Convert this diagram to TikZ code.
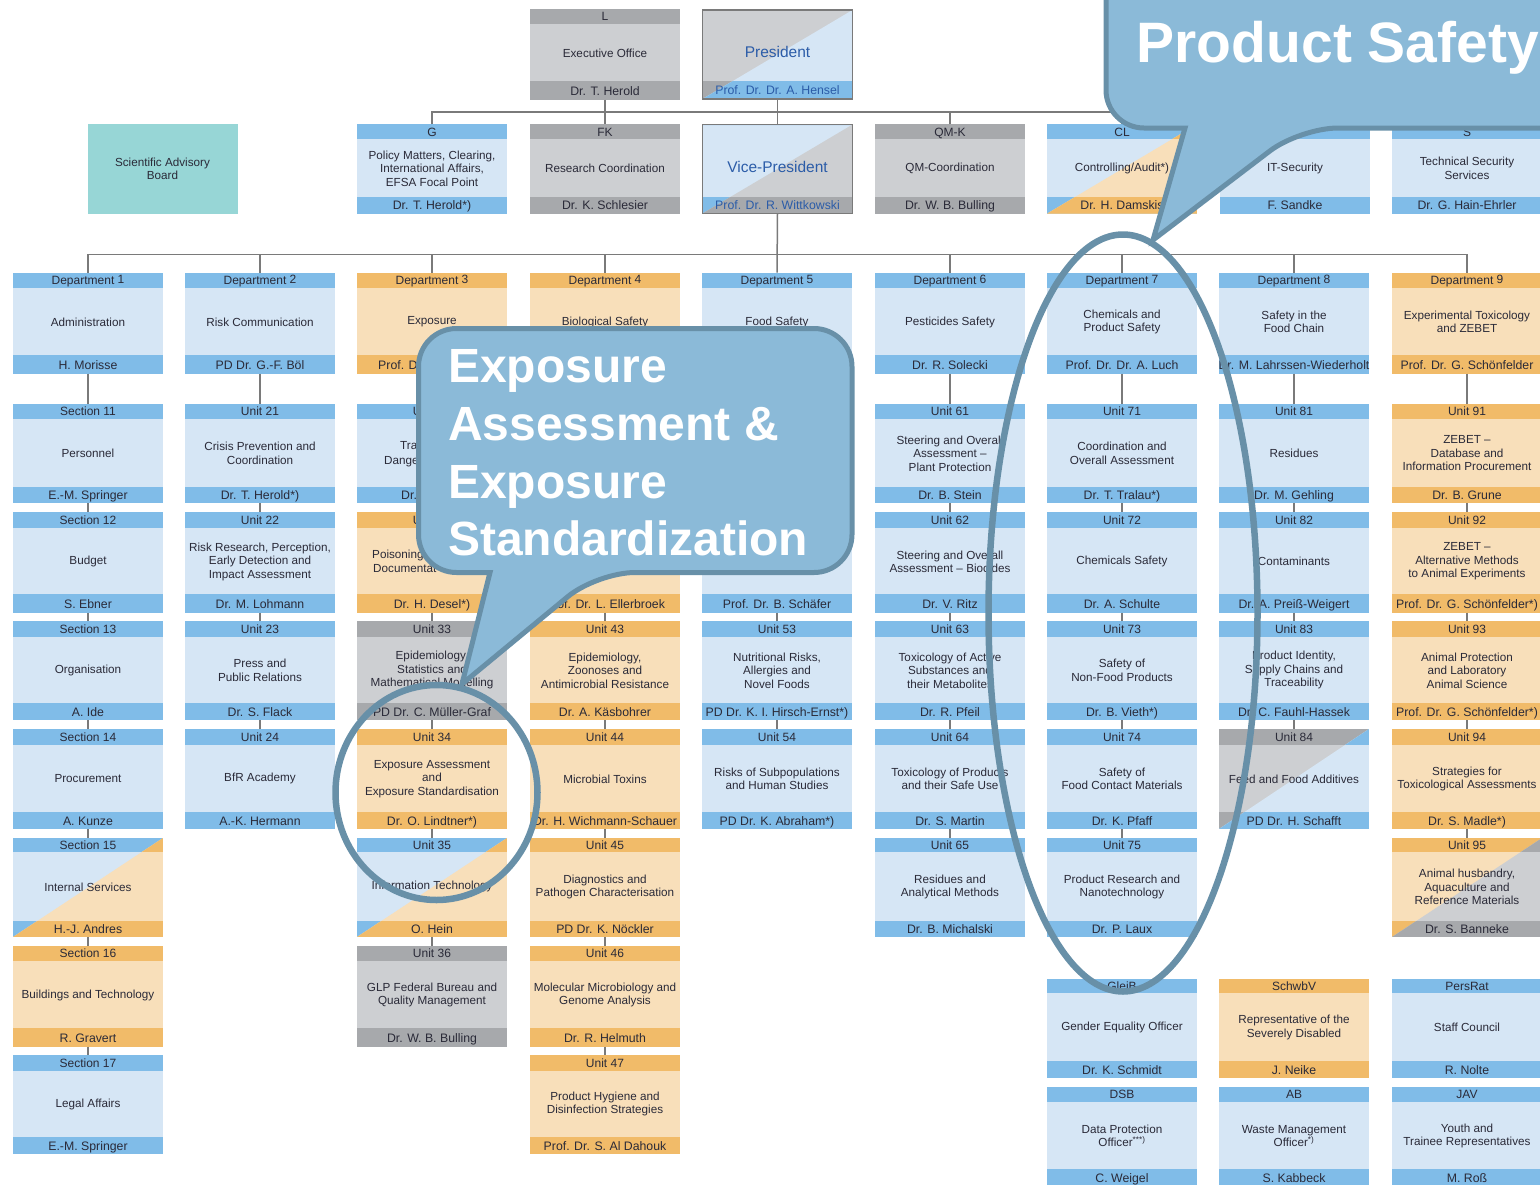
\documentclass[tikz,border=0pt]{standalone}
\usepackage{fontspec}
\setmainfont{Liberation Sans}
\definecolor{bluH}{HTML}{80BCE8}
\definecolor{bluB}{HTML}{D6E6F5}
\definecolor{oraH}{HTML}{F1BB69}
\definecolor{oraB}{HTML}{F8DFBA}
\definecolor{graH}{HTML}{A7A9AC}
\definecolor{graB}{HTML}{CDCFD2}
\definecolor{teal1}{HTML}{97D6D6}
\definecolor{inkD}{HTML}{2A2A38}
\definecolor{inkB}{HTML}{2B5CA8}
\definecolor{connC}{HTML}{7A7A7A}
\definecolor{callF}{HTML}{8BBAD8}
\definecolor{callS}{HTML}{6890A8}
\newcommand{\setrow}[4]{\def\rT{#1}\def\rH{#2}\def\rF{#3}\def\rB{#4}}
\newcommand{\rowT}{\setrow{9}{24}{81}{99.5}}
\newcommand{\rowS}{\setrow{124.3}{139}{196.7}{213.7}}
\newcommand{\rowD}{\setrow{272.7}{288}{355}{373.7}}
\newcommand{\rowA}{\setrow{404}{419}{486.7}{503}}
\newcommand{\rowB}{\setrow{511.7}{528}{594.3}{612.7}}
\newcommand{\rowC}{\setrow{621}{636.7}{703}{720}}
\newcommand{\rowE}{\setrow{729}{745}{811.7}{829}}
\newcommand{\rowF}{\setrow{838}{852}{920.7}{937}}
\newcommand{\rowG}{\setrow{945.7}{961}{1028}{1046.7}}
\newcommand{\rowI}{\setrow{1055}{1070.7}{1136.7}{1154}}
\newcommand{\rowJ}{\setrow{979}{992.7}{1061}{1078}}
\newcommand{\rowK}{\setrow{1086.7}{1102}{1169}{1186}}
\newcommand{\dpt}[1]{Department \raisebox{1.5pt}{#1}}
\newcommand{\obox}[7][]{%
  \pgfmathsetmacro\xR{#3+150}%
  \pgfmathsetmacro\xC{#3+75}%
  \pgfmathsetmacro\yC{(\rT+\rB)/2}%
  \pgfmathsetmacro\hB{\rB-\rT}%
  \pgfmathsetmacro\yH{(\rT+\rH)/2}%
  \pgfmathsetmacro\yM{(\rH+\rF)/2}%
  \pgfmathsetmacro\yF{(\rF+\rB)/2}%
  \node[orgshape, fill=#4B, minimum height=\hB pt] (#2) at (\xC,\yC) {};
  \fill[#4H] (#3,\rT) rectangle (\xR,\rH);
  \fill[#4H] (#3,\rF) rectangle (\xR,\rB);
  \if\relax\detokenize{#1}\relax\else
  \begin{scope}
    \clip (#3,\rB) -- (\xR,\rT) -- (\xR,\rB) -- cycle;
    \fill[#1B] (#3,\rT) rectangle (\xR,\rB);
    \fill[#1H] (#3,\rT) rectangle (\xR,\rH);
    \fill[#1H] (#3,\rF) rectangle (\xR,\rB);
  \end{scope}
  \fi
  \node[orghead] (#2-h) at (\xC,\yH) {#5};
  \node[orgbody] (#2-b) at (\xC,\yM) {#6};
  \node[orgfoot] (#2-f) at (\xC,\yF) {#7};
}
\tikzset{
  orgshape/.style={rectangle, inner sep=0pt, outer sep=0pt, minimum width=150pt},
  orghead/.style={inner sep=0pt, text=inkD, yshift=-1.2pt, text height=8.5pt, text depth=2pt, font=\fontsize{12}{13}\selectfont},
  orgbody/.style={inner sep=0pt, text=inkD, yshift=-0.5pt, align=center, font=\fontsize{11.7}{13.5}\selectfont},
  orgfoot/.style={inner sep=0pt, text=inkD, yshift=-1.5pt, text height=9pt, text depth=2.5pt, font=\fontsize{12.3}{14}\selectfont},
  frag/.style={inner sep=0pt, anchor=base west, text=inkD, font=\fontsize{11.7}{14}\selectfont},
  conn/.style={draw=connC, line width=1.5pt},
  bubble/.style={draw=callS, fill=callF, line width=5pt, line join=miter},
  ring/.style={draw=callS, line width=6.5pt},
  bubbletxt/.style={text=white, inner sep=0pt, font=\bfseries},
}
\begin{document}
\begin{tikzpicture}[x=1pt,y=-1pt]
\useasboundingbox (0,0) rectangle (1540,1184);
\clip (0,0) rectangle (1540,1184);
% ---------- top rows
\rowT
\obox{boxL}{530}{gra}{L}{Executive Office}{Dr. T. Herold}
\begin{scope}[orgbody/.append style={text=inkB, yshift=-6pt, font=\fontsize{15.5}{17}\selectfont}, orgfoot/.append style={text=inkB}]
\setrow{10}{10}{81}{99}
\obox[blu]{pres}{702.5}{gra}{}{President}{Prof. Dr. Dr. A. Hensel}
\setrow{124.5}{124.5}{196.7}{213.5}
\obox[gra]{vp}{702.5}{blu}{}{Vice-President}{Prof. Dr. R. Wittkowski}
\end{scope}
\rowS
\draw[draw=connC, line width=1.8pt] (pres.south west) rectangle (pres.north east);
\draw[draw=connC, line width=1.8pt] (vp.south west) rectangle (vp.north east);
\node[orgshape, fill=teal1, minimum height=90pt, text=inkD, align=center, font=\fontsize{11.7}{13}\selectfont] (sab) at (162.5,169) {Scientific Advisory\\Board};
\obox{boxG}{357}{blu}{G}{Policy Matters, Clearing,\\International Affairs,\\EFSA Focal Point}{Dr. T. Herold*)}
\obox{boxFK}{530}{gra}{FK}{Research Coordination}{Dr. K. Schlesier}
\obox{boxQM}{875}{gra}{QM-K}{QM-Coordination}{Dr. W. B. Bulling}
\obox[ora]{boxCL}{1047}{blu}{CL}{Controlling/Audit*)}{Dr. H. Damskis}
\obox{boxIT}{1220}{blu}{ITS}{IT-Security}{F. Sandke}
\obox{boxS}{1392}{blu}{S}{Technical Security\\Services}{Dr. G. Hain-Ehrler}
% ---------- departments
\rowD
\obox{d1}{13}{blu}{\dpt{1}}{Administration}{H. Morisse}
\obox{d2}{185}{blu}{\dpt{2}}{Risk Communication}{PD Dr. G.-F. Böl}
\obox{d3}{357}{ora}{\dpt{3}}{\raisebox{-2pt}{Exposure}}{}
\obox{d4}{530}{ora}{\dpt{4}}{Biological Safety}{}
\obox{d5}{702}{blu}{\dpt{5}}{Food Safety}{}
\obox{d6}{875}{blu}{\dpt{6}}{Pesticides Safety}{Dr. R. Solecki}
\obox{d7}{1047}{blu}{\dpt{7}}{Chemicals and\\Product Safety}{Prof. Dr. Dr. A. Luch}
\obox{d8}{1219}{blu}{\dpt{8}}{Safety in the\\Food Chain}{Dr. M. Lahrssen-Wiederholt}
\obox{d9}{1392}{ora}{\dpt{9}}{Experimental Toxicology\\and ZEBET}{Prof. Dr. G. Schönfelder}
\node[frag, font=\fontsize{12.3}{14}\selectfont] (fragA) at (378,369.5) {Prof. D};
% ---------- row 1
\rowA
\obox{u11}{13}{blu}{Section 11}{Personnel}{E.-M. Springer}
\obox{u21}{185}{blu}{Unit 21}{Crisis Prevention and\\Coordination}{Dr. T. Herold*)}
\obox{u31}{357}{blu}{Unit 31}{}{}
\obox{u41}{530}{ora}{}{}{}
\obox{u51}{702}{blu}{}{}{}
\obox{u61}{875}{blu}{Unit 61}{Steering and Overall\\Assessment –\\Plant Protection}{Dr. B. Stein}
\obox{u71}{1047}{blu}{Unit 71}{Coordination and\\Overall Assessment}{Dr. T. Tralau*)}
\obox{u81}{1219}{blu}{Unit 81}{Residues}{Dr. M. Gehling}
\obox{u91}{1392}{ora}{Unit 91}{ZEBET –\\Database and\\Information Procurement}{Dr. B. Grune}
\node[frag] (fragB) at (400,449) {Tra};
\node[frag] (fragC) at (384,464) {Dange};
\node[frag, font=\fontsize{12.3}{14}\selectfont] (fragD) at (401,499.5) {Dr.};
% ---------- row 2
\rowB
\obox{u12}{13}{blu}{Section 12}{Budget}{S. Ebner}
\obox{u22}{185}{blu}{Unit 22}{Risk Research, Perception,\\Early Detection and\\Impact Assessment}{Dr. M. Lohmann}
\obox{u32}{357}{ora}{Unit 32}{}{Dr. H. Desel*)}
\obox{u42}{530}{ora}{}{}{Prof. Dr. L. Ellerbroek}
\obox{u52}{702}{blu}{}{}{Prof. Dr. B. Schäfer}
\obox{u62}{875}{blu}{Unit 62}{Steering and Overall\\Assessment – Biocides}{Dr. V. Ritz}
\obox{u72}{1047}{blu}{Unit 72}{Chemicals Safety}{Dr. A. Schulte}
\obox{u82}{1219}{blu}{Unit 82}{Contaminants}{Dr. A. Preiß-Weigert}
\obox{u92}{1392}{ora}{Unit 92}{ZEBET –\\Alternative Methods\\to Animal Experiments}{Prof. Dr. G. Schönfelder*)}
\node[frag] (fragE) at (372,558) {Poisoning};
\node[frag] (fragF) at (373,572) {Documentat};
% ---------- row 3
\rowC
\obox{u13}{13}{blu}{Section 13}{Organisation}{A. Ide}
\obox{u23}{185}{blu}{Unit 23}{Press and\\Public Relations}{Dr. S. Flack}
\obox{u33}{357}{gra}{Unit 33}{Epidemiology,\\Statistics and\\Mathematical Modelling}{PD Dr. C. Müller-Graf}
\obox{u43}{530}{ora}{Unit 43}{Epidemiology,\\Zoonoses and\\Antimicrobial Resistance}{Dr. A. Käsbohrer}
\obox{u53}{702}{blu}{Unit 53}{Nutritional Risks,\\Allergies and\\Novel Foods}{PD Dr. K. I. Hirsch-Ernst*)}
\obox{u63}{875}{blu}{Unit 63}{Toxicology of Active\\Substances and\\their Metabolites}{Dr. R. Pfeil}
\obox{u73}{1047}{blu}{Unit 73}{Safety of\\Non-Food Products}{Dr. B. Vieth*)}
\obox{u83}{1219}{blu}{Unit 83}{Product Identity,\\Supply Chains and\\Traceability}{Dr. C. Fauhl-Hassek}
\obox{u93}{1392}{ora}{Unit 93}{Animal Protection\\and Laboratory\\Animal Science}{Prof. Dr. G. Schönfelder*)}
% ---------- row 4
\rowE
\obox{u14}{13}{blu}{Section 14}{Procurement}{A. Kunze}
\obox{u24}{185}{blu}{Unit 24}{BfR Academy}{A.-K. Hermann}
\obox{u34}{357}{ora}{Unit 34}{Exposure Assessment\\and\\Exposure Standardisation}{Dr. O. Lindtner*)}
\obox{u44}{530}{ora}{Unit 44}{Microbial Toxins}{Dr. H. Wichmann-Schauer}
\obox{u54}{702}{blu}{Unit 54}{Risks of Subpopulations\\and Human Studies}{PD Dr. K. Abraham*)}
\obox{u64}{875}{blu}{Unit 64}{Toxicology of Products\\and their Safe Use}{Dr. S. Martin}
\obox{u74}{1047}{blu}{Unit 74}{Safety of\\Food Contact Materials}{Dr. K. Pfaff}
\obox[blu]{u84}{1219}{gra}{Unit 84}{Feed and Food Additives}{PD Dr. H. Schafft}
\obox{u94}{1392}{ora}{Unit 94}{Strategies for\\Toxicological Assessments}{Dr. S. Madle*)}
% ---------- row 5
\rowF
\obox[ora]{u15}{13}{blu}{Section 15}{Internal Services}{H.-J. Andres}
\obox[ora]{u35}{357}{blu}{Unit 35}{Information Technology}{O. Hein}
\obox{u45}{530}{ora}{Unit 45}{Diagnostics and\\Pathogen Characterisation}{PD Dr. K. Nöckler}
\obox{u65}{875}{blu}{Unit 65}{Residues and\\Analytical Methods}{Dr. B. Michalski}
\obox{u75}{1047}{blu}{Unit 75}{Product Research and\\Nanotechnology}{Dr. P. Laux}
\obox[gra]{u95}{1392}{ora}{Unit 95}{Animal husbandry,\\Aquaculture and\\Reference Materials}{Dr. S. Banneke}
% ---------- row 6
\rowG
\obox{u16}{13}{ora}{Section 16}{Buildings and Technology}{R. Gravert}
\obox{u36}{357}{gra}{Unit 36}{GLP Federal Bureau and\\Quality Management}{Dr. W. B. Bulling}
\obox{u46}{530}{ora}{Unit 46}{Molecular Microbiology and\\Genome Analysis}{Dr. R. Helmuth}
% ---------- row 7
\rowI
\obox{u17}{13}{blu}{Section 17}{Legal Affairs}{E.-M. Springer}
\obox{u47}{530}{ora}{Unit 47}{Product Hygiene and\\Disinfection Strategies}{Prof. Dr. S. Al Dahouk}
% ---------- staff boxes
\rowJ
\obox{gl}{1047}{blu}{GleiB}{Gender Equality Officer}{Dr. K. Schmidt}
\obox{sv}{1219}{ora}{SchwbV}{Representative of the\\Severely Disabled}{J. Neike}
\obox{pr}{1392}{blu}{PersRat}{Staff Council}{R. Nolte}
\rowK
\obox{dsb}{1047}{blu}{DSB}{Data Protection\\Officer\textsuperscript{***)}}{C. Weigel}
\obox{ab}{1219}{blu}{AB}{Waste Management\\Officer\textsuperscript{*)}}{S. Kabbeck}
\obox{jav}{1392}{blu}{JAV}{Youth and\\Trainee Representatives}{M. Roß}
% ---------- connectors
\coordinate (busT) at (777,112);
\coordinate (busD) at (777,254.3);
\draw[conn] (boxG.north) |- (busT) -| (boxS.north);
\foreach \n in {boxQM,boxCL,boxIT} \draw[conn] (\n.north) -- (\n.north |- busT);
\draw[conn] (boxL.south) -- (boxFK.north);
\draw[conn] (pres.south) -- (vp.north);
\draw[conn] (vp.south) -- (d5.north);
\draw[conn] (d1.north) |- (busD) -| (d9.north);
\foreach \n in {d2,d3,d4,d6,d7,d8} \draw[conn] (\n.north) -- (\n.north |- busD);
\foreach \a/\b in {d1/u11,u11/u12,u12/u13,u13/u14,u14/u15,u15/u16,u16/u17,
  d2/u21,u21/u22,u22/u23,u23/u24,
  d3/u31,u31/u32,u32/u33,u33/u34,u34/u35,u35/u36,
  d4/u41,u41/u42,u42/u43,u43/u44,u44/u45,u45/u46,u46/u47,
  d5/u51,u51/u52,u52/u53,u53/u54,
  d6/u61,u61/u62,u62/u63,u63/u64,u64/u65,
  d7/u71,u71/u72,u72/u73,u73/u74,u74/u75,
  d8/u81,u81/u82,u82/u83,u83/u84,
  d9/u91,u91/u92,u92/u93,u93/u94,u94/u95}
  \draw[conn] (\a.south) -- (\b.north);
% ---------- callouts
\draw[bubble] (490,572.5) [rounded corners=38pt] -- (418.5,572.5) -- (418.5,328.5) -- (852,328.5) -- (852,572.5) -- (597,572.5) [sharp corners] -- (462,684) -- cycle;
\node[bubbletxt, anchor=north west, align=left, font=\bfseries\fontsize{48}{57.7}\selectfont] (expo) at (448,349.5) {Exposure\\Assessment \&\\Exposure\\Standardization};
\draw[bubble] (1185,128) [rounded corners=38pt] -- (1106,128) -- (1106,-80) -- (1620,-80) -- (1620,128) -- (1300,128) [sharp corners] -- (1153,240) -- cycle;
\node[bubbletxt, anchor=base west, font=\bfseries\fontsize{57}{60}\selectfont] (prod) at (1136.5,62) {Product Safety};
% ---------- rings
\draw[ring] (436.5,792.5) ellipse [x radius=101, y radius=107.5];
\draw[ring] (1123,613) ellipse [x radius=134.5, y radius=378.5];
\end{tikzpicture}
\end{document}
